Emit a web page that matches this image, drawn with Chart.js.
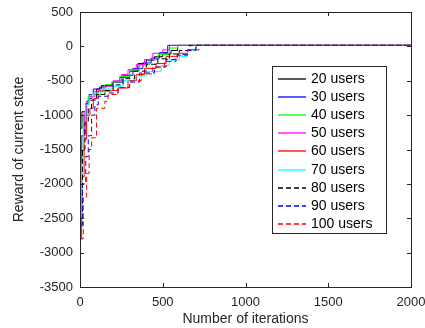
<!DOCTYPE html>
<html lang="en">
  <head>
    <meta charset="UTF-8" />
    <title>Reward of current state</title>
    <script src="https://cdn.jsdelivr.net/npm/chart.js@4.4.0/dist/chart.umd.min.js"></script>
    <style>
      html, body { margin: 0; padding: 0; background: #fff; }
      #wrap { width: 425px; height: 328px; }
    </style>
  </head>
  <body>
    <div id="wrap"><canvas id="myChart" width="425" height="328"></canvas></div>

    <script>
      // values (best reward found so far, per user count)
      const seriesLabels = ['20 users', '30 users', '40 users', '50 users', '60 users',
                            '70 users', '80 users', '90 users', '100 users'];

      const users20X = [0, 12, 35, 50, 70, 100, 120, 160, 200, 240, 300, 350, 400, 450, 500, 550, 590, 600, 2000];
      const users20Y = [-1530, -1190, -950, -830, -760, -700, -620, -590, -560, -520, -450, -360, -250, -200, -150, -110, -60, 15, 15];

      const users30X = [0, 10, 30, 40, 55, 80, 130, 200, 260, 320, 380, 430, 480, 530, 580, 2000];
      const users30Y = [-3000, -2000, -1300, -1000, -800, -700, -620, -570, -520, -420, -320, -240, -170, -90, 15, 15];

      const users40X = [0, 10, 20, 35, 50, 70, 150, 190, 240, 300, 360, 420, 470, 540, 590, 630, 2000];
      const users40Y = [-2900, -2400, -1600, -1000, -850, -725, -700, -556, -520, -440, -350, -270, -190, -120, -24, 15, 15];

      const users50X = [0, 10, 25, 40, 60, 90, 140, 200, 250, 290, 340, 390, 440, 500, 540, 570, 2000];
      const users50Y = [-3400, -2500, -1300, -950, -800, -730, -650, -580, -500, -410, -340, -266, -190, -100, -50, 15, 15];

      const users60X = [0, 10, 25, 40, 60, 80, 110, 190, 230, 290, 340, 390, 460, 520, 590, 650, 700, 740, 2000];
      const users60Y = [-3300, -2800, -1900, -1350, -1000, -900, -760, -650, -640, -605, -500, -410, -320, -250, -145, -100, -50, 15, 15];

      const users70X = [0, 10, 20, 35, 55, 80, 130, 200, 260, 330, 400, 490, 540, 600, 650, 700, 730, 2000];
      const users70Y = [-3150, -2500, -1700, -1100, -850, -740, -680, -620, -580, -500, -430, -363, -280, -200, -145, -60, 15, 15];

      const users80X = [0, 15, 30, 50, 70, 100, 150, 200, 260, 330, 400, 470, 540, 600, 660, 680, 2000];
      const users80Y = [-3300, -2500, -1500, -1100, -900, -780, -700, -640, -560, -470, -360, -260, -180, -110, -60, 15, 15];

      const users90X = [0, 15, 35, 50, 70, 90, 110, 170, 230, 300, 360, 450, 520, 590, 650, 700, 730, 2000];
      const users90Y = [-3400, -2600, -2000, -1600, -1300, -1000, -850, -725, -678, -600, -520, -387, -300, -190, -120, -60, 15, 15];

      const users100X = [0, 20, 40, 55, 70, 100, 150, 170, 230, 300, 370, 440, 510, 580, 650, 720, 760, 2000];
      const users100Y = [-3500, -2800, -2200, -1850, -1500, -1330, -900, -800, -700, -600, -500, -400, -300, -220, -130, -50, 15, 15];

      const xTicks = [0, 500, 1000, 1500, 2000];
      const yTicks = [-3500, -3000, -2500, -2000, -1500, -1000, -500, 0, 500];

      const allX = [users20X, users30X, users40X, users50X, users60X, users70X, users80X, users90X, users100X];
      const allY = [users20Y, users30Y, users40Y, users50Y, users60Y, users70Y, users80Y, users90Y, users100Y];
      const colors = ['#000000', '#0000ff', '#00ff00', '#ff00ff', '#ff0000', '#00ffff', '#000000', '#0000ff', '#ff0000'];
      const dashed = [false, false, false, false, false, false, true, true, true];

      const axisColor = '#262626';
      const fontFam = '"Liberation Sans", Arial, Helvetica, sans-serif';

      function toPoints(xs, ys) {
        return xs.map((x, i) => ({ x: x, y: ys[i] }));
      }

      const datasets = seriesLabels.map((label, i) => ({
        label: label,
        data: toPoints(allX[i], allY[i]),
        borderColor: colors[i],
        backgroundColor: colors[i],
        borderWidth: 1,
        borderDash: dashed[i] ? [5, 3] : [],
        pointRadius: 0,
        stepped: 'after',
        fill: false,
        order: seriesLabels.length - i
      }));

      // box, inward ticks and the legend box, MATLAB style
      const matlabFrame = {
        id: 'matlabFrame',
        afterDatasetsDraw(chart) {
          const ctx = chart.ctx;
          const a = chart.chartArea;
          const xs = chart.scales.x, ys = chart.scales.y;
          ctx.save();
          ctx.strokeStyle = axisColor;
          ctx.lineWidth = 1;
          ctx.setLineDash([]);
          ctx.strokeRect(Math.round(a.left) + 0.5, Math.round(a.top) + 0.5,
                         Math.round(a.right - a.left), Math.round(a.bottom - a.top));
          ctx.beginPath();
          xTicks.forEach(v => {
            const p = Math.round(xs.getPixelForValue(v)) + 0.5;
            ctx.moveTo(p, a.bottom); ctx.lineTo(p, a.bottom - 4);
            ctx.moveTo(p, a.top); ctx.lineTo(p, a.top + 4);
          });
          yTicks.forEach(v => {
            const p = Math.round(ys.getPixelForValue(v)) + 0.5;
            ctx.moveTo(a.left, p); ctx.lineTo(a.left + 4, p);
            ctx.moveTo(a.right, p); ctx.lineTo(a.right - 4, p);
          });
          ctx.stroke();

          // legend
          const lx = 272, ly = 66, lw = 114, lh = 167, row = 18.2;
          ctx.fillStyle = '#ffffff';
          ctx.fillRect(lx, ly, lw, lh);
          ctx.strokeStyle = axisColor;
          ctx.strokeRect(lx + 0.5, ly + 0.5, lw, lh);
          ctx.font = '14px ' + fontFam;
          ctx.textBaseline = 'middle';
          chart.data.datasets.forEach((ds, i) => {
            const cy = Math.round(ly + 12.5 + i * row);
            ctx.strokeStyle = ds.borderColor;
            ctx.lineWidth = 1.3;
            ctx.setLineDash(ds.borderDash);
            ctx.beginPath();
            ctx.moveTo(lx + 6, cy);
            ctx.lineTo(lx + 34, cy);
            ctx.stroke();
            ctx.setLineDash([]);
            ctx.fillStyle = '#000000';
            ctx.fillText(ds.label, lx + 39, cy);
          });
          ctx.restore();
        }
      };

      const ctx = document.getElementById('myChart').getContext('2d');
      const myChart = new Chart(ctx, {
        type: 'line',
        data: { datasets: datasets },
        options: {
          responsive: false,
          animation: false,
          layout: { padding: { top: 12, right: 14, left: 0, bottom: 0 } },
          plugins: { legend: { display: false }, tooltip: { enabled: false } },
          scales: {
            x: {
              type: 'linear',
              min: 0, max: 2000,
              grid: { display: false, drawTicks: false },
              border: { display: false },
              afterFit(scale) {
                scale.height = 41;
                scale.paddingLeft = 0;
                scale.paddingRight = 0;
              },
              afterBuildTicks(scale) { scale.ticks = xTicks.map(v => ({ value: v })); },
              ticks: { color: axisColor, padding: 8, maxRotation: 0,
                       callback: v => String(v),
                       font: { size: 13, family: fontFam } },
              title: { display: true, text: 'Number of iterations', color: axisColor,
                       padding: { top: 0, bottom: 0 }, font: { size: 14, family: fontFam } }
            },
            y: {
              min: -3500, max: 500,
              grid: { display: false, drawTicks: false },
              border: { display: false },
              afterFit(scale) {
                scale.width = 80;
                scale.paddingTop = 0;
                scale.paddingBottom = 0;
              },
              afterBuildTicks(scale) { scale.ticks = yTicks.map(v => ({ value: v })); },
              ticks: { color: axisColor, padding: 7,
                       callback: v => String(v),
                       font: { size: 13, family: fontFam } },
              title: { display: true, text: 'Reward of current state', color: axisColor,
                       padding: { top: 11, bottom: 0 }, font: { size: 14, family: fontFam } }
            }
          }
        },
        plugins: [matlabFrame]
      });
    </script>
  </body>
</html>
